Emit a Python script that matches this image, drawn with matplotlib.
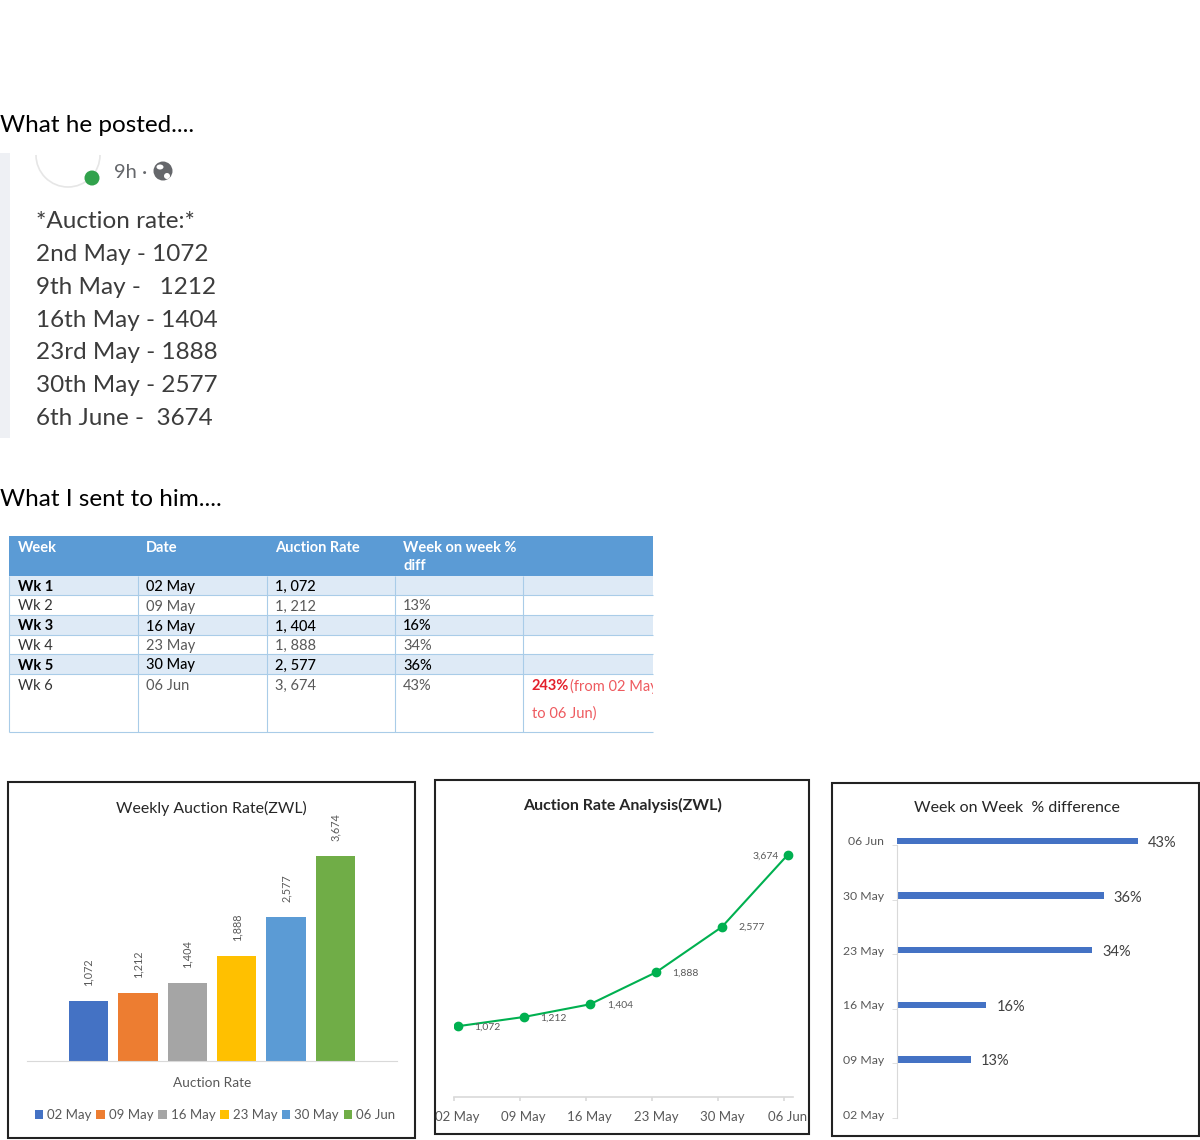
# -*- coding: utf-8 -*-
"""
Auction rate post, table and the three small charts, laid out on one page.
"""
import numpy as np
import matplotlib
matplotlib.use('Agg')
import matplotlib.pyplot as plt
import matplotlib.patches as mpatches

# =============================================================================
# Data
# =============================================================================
dates = ['02 May', '09 May', '16 May', '23 May', '30 May', '06 Jun']
auction_rate = [1072, 1212, 1404, 1888, 2577, 3674]
rate_labels = ['1,072', '1,212', '1,404', '1,888', '2,577', '3,674']
wow_diff = [np.nan, 13.1, 15.8, 34.5, 36.5, 42.6]
wow_labels = ['', '13%', '16%', '34%', '36%', '43%']

post_lines = ['*Auction rate:*', '2nd May - 1072', '9th May -   1212',
              '16th May - 1404', '23rd May - 1888', '30th May - 2577',
              '6th June -  3674']

table_header = ['Week', 'Date', 'Auction Rate', 'Week on week %\ndiff']
table_weeks = ['Wk 1', 'Wk 2', 'Wk 3', 'Wk 4', 'Wk 5', 'Wk 6']
table_dates = dates
table_rates = ['1, 072', '1, 212', '1, 404', '1, 888', '2, 577', '3, 674']
table_diffs = ['', '13%', '16%', '34%', '36%', '43%']

bar_colors = ['#4472C4', '#ED7D31', '#A5A5A5', '#FFC000', '#5B9BD5', '#70AD47']

W, H = 1200, 1140
FONT = 'Lato'
GREY = '#595959'

plt.rcParams['font.family'] = [FONT, 'DejaVu Sans']

fig = plt.figure(figsize=(W / 100, H / 100), dpi=100)


def pixel_axes(x0, y0, x1, y1):
    """Axes placed by pixel box, y counted from the top of the page."""
    ax = fig.add_axes([x0 / W, 1 - y1 / H, (x1 - x0) / W, (y1 - y0) / H])
    ax.patch.set_alpha(0)
    return ax


# Page layer in pixel coordinates, for the text, screenshot and table
page = fig.add_axes([0, 0, 1, 1], zorder=0)
page.set_xlim(0, W)
page.set_ylim(H, 0)
page.axis('off')

page.text(0, 126, 'What he posted....', fontsize=17.5, color='black', va='center')
page.text(0, 500, 'What I sent to him....', fontsize=17.5, color='black', va='center')

# =============================================================================
# Screenshot of the post
# =============================================================================
page.add_patch(mpatches.Rectangle((0, 153), 10, 285, fc='#EEF0F4', ec='none'))
avatar = mpatches.Arc((68, 155), 64, 64, theta1=0, theta2=180, ec='#E6E6E6', lw=1.2)
page.add_patch(avatar)
page.add_patch(mpatches.Circle((92, 178), 7.5, fc='#31A24C', ec='none'))
page.text(114, 172, '9h ·', fontsize=14.5, color='#65676B', va='center')
page.add_patch(mpatches.Circle((163, 171), 9.5, fc='#65676B', ec='none'))
page.add_patch(mpatches.Ellipse((160, 167), 7, 5, fc='white', ec='none'))
page.add_patch(mpatches.Ellipse((167, 176), 6, 6, fc='white', ec='none'))
for i, line in enumerate(post_lines):
    page.text(36, 222 + i * 32.7, line, fontsize=17.5, color='#3C3C3C', va='center')

# =============================================================================
# Table
# =============================================================================
col_edges = [9, 138, 267, 395, 523, 653]
row_edges = [576, 595, 615, 635, 654, 674, 732]
text_x = [18, 146, 275, 403, 532]
line_blue = '#A9CCE8'

page.add_patch(mpatches.Rectangle((9, 536), 644, 40, fc='#5B9BD5', ec='none'))
for i in range(6):
    fill = '#DEEAF6' if i % 2 == 0 else 'white'
    page.add_patch(mpatches.Rectangle((9, row_edges[i]), 644, row_edges[i + 1] - row_edges[i],
                                      fc=fill, ec='none'))
    page.plot([9, 653], [row_edges[i + 1]] * 2, color=line_blue, lw=0.8, solid_capstyle='butt')
for x in col_edges[:-1]:
    page.plot([x, x], [576, 732], color=line_blue, lw=0.8, solid_capstyle='butt')

for x, label in zip(text_x, table_header):
    page.text(x, 540.5, label, fontsize=10.5, color='white', fontweight='bold',
              va='top', linespacing=1.45)

for i in range(6):
    y = (row_edges[i] + row_edges[i + 1]) / 2 + 1.5 if i < 5 else 686
    bold = i % 2 == 0
    shade = 'black' if bold else GREY
    weight = 'medium' if bold else 'normal'
    page.text(text_x[0], y, table_weeks[i], fontsize=10.5, va='center',
              color='black' if bold else '#333333', fontweight='bold' if bold else 'normal')
    page.text(text_x[1], y, table_dates[i], fontsize=10.5, va='center', color=shade, fontweight=weight)
    page.text(text_x[2], y, table_rates[i], fontsize=10.5, va='center', color=shade, fontweight=weight)
    page.text(text_x[3], y, table_diffs[i], fontsize=10.5, va='center', color=shade, fontweight=weight)

clip = mpatches.Rectangle((9, 536), 644, 196, transform=page.transData)
page.text(text_x[4], 686, '243%', fontsize=10.5, color='#E3202B', fontweight='bold', va='center')
note = page.text(570, 686, '(from 02 May', fontsize=10.5, color='#EE5A5F', va='center')
note.set_clip_on(True)
note.set_clip_path(clip)
page.text(text_x[4], 714, 'to 06 Jun)', fontsize=10.5, color='#EE5A5F', va='center')

# Panel frames
for x0, y0, x1, y1 in [(8, 782, 415, 1138), (435, 780, 809, 1134), (832, 783, 1199, 1136)]:
    page.add_patch(mpatches.Rectangle((x0, y0), x1 - x0, y1 - y0, fc='white', ec='#222222', lw=1.5))

# =============================================================================
# Bar chart
# =============================================================================
ax1 = pixel_axes(27, 825, 397, 1061)
for i, (date, rate) in enumerate(zip(dates, auction_rate)):
    ax1.bar(i, rate, width=0.8, color=bar_colors[i], label=date)
    ax1.annotate(rate_labels[i], (i, rate), xytext=(0, 15), textcoords='offset pixels',
                 rotation=90, ha='center', va='bottom', fontsize=7.8, color=GREY)
ax1.set_xlim(-1.245, 6.245)
ax1.set_ylim(0, 236 / 0.0557)
for side in ['top', 'left', 'right']:
    ax1.spines[side].set_visible(False)
ax1.spines['bottom'].set_color('#D9D9D9')
ax1.set_yticks([])
ax1.set_xticks([])
page.text(212, 1083, 'Auction Rate', fontsize=9.8, color=GREY, ha='center', va='center')
page.text(211, 808, 'Weekly Auction Rate(ZWL)', fontsize=11.4, color='#262626', ha='center', va='center')
ax1.legend(ncol=6, loc='center', bbox_to_anchor=(215 / W, 1 - 1115 / H),
           bbox_transform=fig.transFigure, frameon=False, fontsize=9.5,
           labelcolor=GREY, handlelength=0.65, handleheight=0.65, handletextpad=0.3,
           columnspacing=0.35, borderpad=0)

# =============================================================================
# Line chart
# =============================================================================
ax2 = pixel_axes(454, 840, 793, 1097)
x = np.arange(len(dates))
ax2.plot(x, auction_rate, color='#00B050', lw=1.5, marker='o', ms=6)
label_offsets = [(30, -1), (30, -1), (30, -1), (30, -1), (30, 0), (-22, -2)]
for i, rate in enumerate(auction_rate):
    ax2.annotate(rate_labels[i], (i, rate), xytext=label_offsets[i], textcoords='offset pixels',
                 ha='center', va='center', fontsize=7.5, color=GREY)
ax2.set_xlim(-3.5 / 66.1, 5 + 5 / 66.1)
ax2.set_ylim(0, 257 / 0.066)
for side in ['top', 'left', 'right']:
    ax2.spines[side].set_visible(False)
ax2.spines['bottom'].set_color('#D9D9D9')
ax2.spines['bottom'].set_linewidth(1.2)
ax2.set_yticks([])
ax2.set_xticks(x)
ax2.set_xticklabels(dates, fontsize=9.5, color=GREY)
ax2.tick_params(axis='x', which='major', length=0, pad=10)
ax2.set_xticks(x - 0.055, minor=True)
ax2.tick_params(axis='x', which='minor', length=3, color='#D9D9D9', width=1.2)
for tick_label in ax2.get_xticklabels():
    tick_label.set_clip_on(True)
    tick_label.set_clip_path(mpatches.Rectangle((436, 780), 372, 354, transform=page.transData))
page.text(623, 805.5, 'Auction Rate Analysis(ZWL)', fontsize=11.5, color='#262626',
          fontweight='bold', ha='center', va='center')

# =============================================================================
# Horizontal bars
# =============================================================================
ax3 = pixel_axes(897, 818, 1190, 1118)
y = np.arange(len(dates))
ax3.barh(y, wow_diff, height=0.12, color='#4472C4')
for i, diff in enumerate(wow_diff):
    if wow_labels[i]:
        ax3.annotate(wow_labels[i], (diff, i), xytext=(10, -2), textcoords='offset pixels',
                     ha='left', va='center', fontsize=10.5, color='#404040')
ax3.set_xlim(0, 293 / 5.66)
ax3.set_ylim(-4 / 54.7, 5 + 23 / 54.7)
for side in ['top', 'bottom', 'right']:
    ax3.spines[side].set_visible(False)
ax3.spines['left'].set_color('#D9D9D9')
ax3.spines['left'].set_bounds(-4 / 54.7, 5 - 4 / 54.7)
ax3.set_xticks([])
ax3.set_yticks(y)
ax3.set_yticklabels(dates, fontsize=8.8, color=GREY)
ax3.tick_params(axis='y', which='major', length=0, pad=9.5)
ax3.set_yticks(y - 4 / 54.7, minor=True)
ax3.tick_params(axis='y', which='minor', length=3.5, color='#D9D9D9')
page.text(1017, 807.5, 'Week on Week  % difference', fontsize=11.5, color='#262626', ha='center', va='center')

fig.savefig('out.png', dpi=100)
